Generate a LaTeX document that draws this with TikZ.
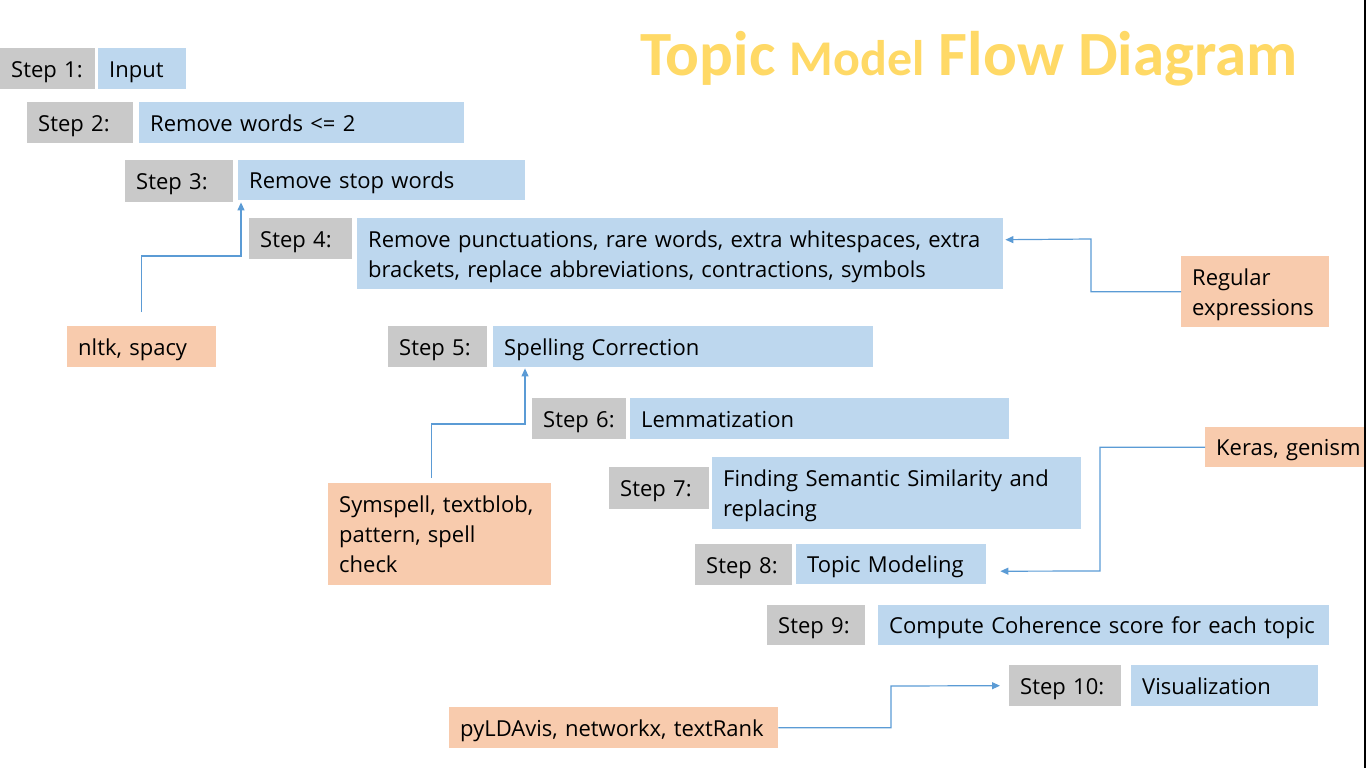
\documentclass[tikz,border=0pt]{standalone}
\usepackage{fontspec}
\setmainfont{Open Sans}
\newfontfamily\titlefont{Carlito}
\usetikzlibrary{arrows.meta, positioning}

\definecolor{stepgray}{HTML}{C9C9C9}
\definecolor{bodyblue}{HTML}{BDD7EE}
\definecolor{toolpeach}{HTML}{F8CBAD}
\definecolor{linkblue}{HTML}{5B9BD5}
\definecolor{titlegold}{HTML}{FFD966}

\begin{document}
\begin{tikzpicture}[
  x=1pt, y=-1pt,
  box/.code 2 args = {\pgfmathsetmacro\boxtw{#1-22}%
                      \tikzset{minimum width=#1pt, minimum height=#2pt,
                               text width=\boxtw pt}},
  card/.style     = {rectangle, anchor=north west, inner xsep=11pt, inner ysep=0pt,
                     align=left, font=\fontsize{22}{30}\selectfont,
                     execute at begin node={\rule{0pt}{22.5pt}},
                     execute at end node={\rule[-5.5pt]{0pt}{0pt}}},
  steplbl/.style  = {card, fill=stepgray},
  stepbody/.style = {card, fill=bodyblue},
  tool/.style     = {card, fill=toolpeach},
  link/.style     = {draw=linkblue, line width=1.2pt,
                     -{Triangle[length=8pt, width=7pt]}},
]
\useasboundingbox (0,0) rectangle (1366,768);
% ── title ──
\node[anchor=base west, inner sep=0, text=titlegold, font=\titlefont\bfseries] (title)
  at (640,75) {\fontsize{63}{63}\selectfont Topic {\fontsize{50}{50}\selectfont Model} Flow Diagram};
% ── step labels ──
\foreach \n/\x/\y/\w/\h in {
    1/0/48/95/41,
    2/27/102/106/41,
    3/125/160/108/42,
    4/249/218/103/41,
    5/388/326/99/41,
    6/532/398/94/41,
    7/609/467/100/42,
    8/695/544/97/41,
    9/767/605/98/40,
    10/1009/665/112/41}
{
  \node[steplbl, box={\w}{\h}] (s\n) at (\x,\y) {Step \n:};
}
% ── step bodies ──
\node[stepbody, box={88}{41}]  (b1)  at (98,48)   {Input};
\node[stepbody, box={325}{41}] (b2)  at (139,102) {Remove words <= 2};
\node[stepbody, box={287}{40}] (b3)  at (238,160) {Remove stop words};
\node[stepbody, box={646}{71}] (b4)  at (357,218)
  {Remove punctuations, rare words, extra whitespaces, extra\\
   brackets, replace abbreviations, contractions, symbols};
\node[stepbody, box={380}{41}] (b5)  at (493,326) {Spelling Correction};
\node[stepbody, box={379}{41}] (b6)  at (630,398) {Lemmatization};
\node[stepbody, box={369}{72}] (b7)  at (712,457) {Finding Semantic Similarity and\\replacing};
\node[stepbody, box={190}{40}] (b8)  at (796,544) {Topic Modeling};
\node[stepbody, box={451}{40}] (b9)  at (878,605) {Compute Coherence score for each topic};
\node[stepbody, box={187}{41}] (b10) at (1131,665) {Visualization};
% ── tools ──
\node[tool, box={148}{71}]  (regex) at (1181,256) {Regular\\expressions};
\node[tool, box={149}{41}]  (nltk)  at (67,326)   {nltk, spacy};
\node[tool, box={168}{40}]  (keras) at (1205,427) {Keras, genism};
\node[tool, box={223}{102}] (spell) at (328,483)  {Symspell, textblob,\\pattern, spell\\check};
\node[tool, box={329}{41}]  (vis)   at (449,707)  {pyLDAvis, networkx, textRank};
% ── bends ──
\coordinate (k1) at (241,256);
\coordinate (k2) at (1091,239);
\coordinate (k3) at (525,424);
\coordinate (k4) at (1100,571);
\coordinate (k5) at (891,686);
% ── links ──
\draw[link] ([yshift=14pt]nltk.north) |- (k1) -- ([xshift=3pt,yshift=-2pt]b3.south west);
\draw[link] (regex.west) -| (k2) -- ([xshift=2pt,yshift=14pt]b4.east);
\draw[link] ([xshift=-8pt,yshift=5pt]spell.north) |- (k3) -- ([xshift=32pt,yshift=-1pt]b5.south west);
\draw[link] (keras.west) -| (k4) -- ([xshift=14pt,yshift=-7pt]b8.east);
\draw[link] (vis.east) -| (k5) -- ([xshift=-9pt]s10.west);
% ── frame edge ──
\draw[line width=2pt] (1365,0) -- (1365,768);
\end{tikzpicture}
\end{document}
